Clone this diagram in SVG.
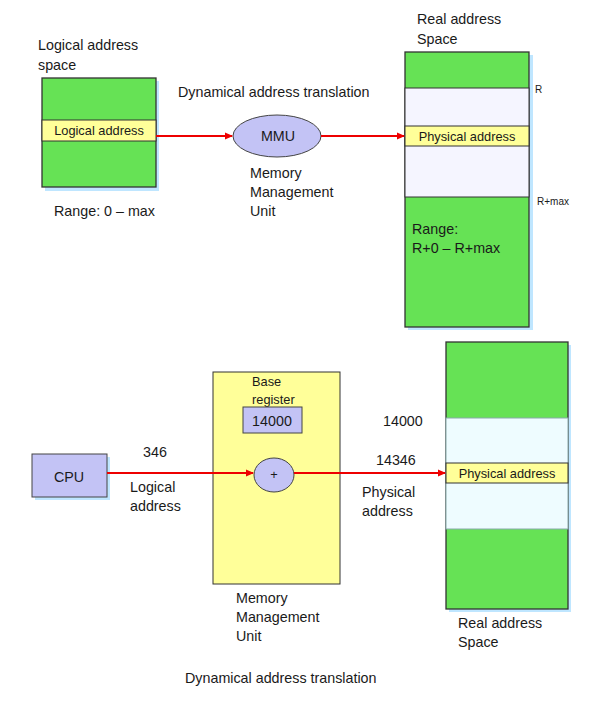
<svg xmlns="http://www.w3.org/2000/svg" width="609" height="708" viewBox="0 0 609 708">
<style>
text{font-family:"Liberation Sans",Arial,sans-serif;font-size:14.3px;fill:#1a1a1a}
.s{font-size:12.8px}
.xs{font-size:10px}
.c{text-anchor:middle}
.green{fill:#66e255;stroke:#333;stroke-width:1.3}
.yel{fill:#ffff99;stroke:#333;stroke-width:1}
.lav{fill:#c3c3f5;stroke:#444;stroke-width:1}
.glow{fill:#bfe6ff}
.conn{stroke:#ee0000;stroke-width:2.2;fill:none}
</style>
<defs>
<marker id="ah" markerWidth="8" markerHeight="8" refX="7" refY="4" orient="auto" markerUnits="userSpaceOnUse">
<path d="M0,0.5 L8,4 L0,7.5 Z" fill="#ee0000"/>
</marker>
</defs>

<g id="logical-space">
<text x="38" y="50">Logical address</text>
<text x="38" y="70">space</text>
<rect class="glow" x="45" y="81" width="114" height="110"/>
<rect class="green" x="42" y="78" width="114" height="109"/>
<rect class="yel" x="42" y="120" width="114" height="21"/>
<text class="s c" x="99" y="135">Logical  address</text>
<text x="54" y="216">Range: 0 – max</text>
</g>

<g id="mmu-top">
<text x="178" y="97">Dynamical address translation</text>
<ellipse class="lav" cx="277" cy="136" rx="44" ry="21"/>
<text class="c" x="278" y="141">MMU</text>
<text x="250" y="178">Memory</text>
<text x="250" y="197">Management</text>
<text x="250" y="216">Unit</text>
</g>

<g id="real-space-top">
<text x="417" y="24">Real address</text>
<text x="417" y="44">Space</text>
<rect class="glow" x="408" y="55" width="125" height="275"/>
<rect class="green" x="405" y="52" width="124" height="275"/>
<rect x="405" y="88" width="124" height="109" fill="#f5f5ff" stroke="#333" stroke-width="1"/>
<rect class="yel" x="405" y="126" width="124" height="20"/>
<text class="s c" x="467" y="140.5">Physical address</text>
<text class="xs" x="535" y="93">R</text>
<text class="xs" x="537" y="205">R+max</text>
<text x="412" y="234">Range:</text>
<text x="412" y="253">R+0 – R+max</text>
</g>

<g id="cpu">
<rect class="glow" x="35" y="457" width="75" height="43"/>
<rect class="lav" x="32" y="454" width="75" height="43"/>
<text class="c" x="69" y="482">CPU</text>
</g>

<g id="mmu-bottom">
<rect class="yel" x="213" y="372" width="127" height="212"/>
<text class="s" x="252" y="386">Base</text>
<text class="s" x="252" y="404">register</text>
<rect class="lav" x="243" y="407" width="59" height="26"/>
<text class="c" x="272" y="425.5">14000</text>
<ellipse class="lav" cx="274" cy="475" rx="20" ry="17"/>
<text class="s c" x="274" y="479">+</text>
<text x="236" y="603">Memory</text>
<text x="236" y="622">Management</text>
<text x="236" y="641">Unit</text>
</g>

<g id="real-space-bottom">
<rect class="glow" x="449" y="345" width="122" height="267"/>
<rect class="green" x="446" y="342" width="122" height="267"/>
<rect x="446" y="418" width="122" height="111" fill="#eefcff" stroke="#8aa" stroke-width="1"/>
<rect class="yel" x="446" y="463" width="122" height="20"/>
<text class="s c" x="507" y="477.5">Physical address</text>
<text x="458" y="628">Real address</text>
<text x="458" y="647">Space</text>
</g>

<g id="labels-bottom">
<text x="143" y="457">346</text>
<text x="130" y="492">Logical</text>
<text x="130" y="511">address</text>
<text x="383" y="426">14000</text>
<text x="376" y="465">14346</text>
<text x="362" y="497">Physical</text>
<text x="362" y="516">address</text>
<text x="185" y="683">Dynamical address translation</text>
</g>

<g id="connectors">
<line class="conn" x1="156" y1="136" x2="232" y2="136" marker-end="url(#ah)"/>
<line class="conn" x1="321" y1="136" x2="404" y2="136" marker-end="url(#ah)"/>
<line class="conn" x1="107" y1="473" x2="253" y2="473" marker-end="url(#ah)"/>
<line class="conn" x1="294" y1="473" x2="445" y2="473" marker-end="url(#ah)"/>
</g>
</svg>
